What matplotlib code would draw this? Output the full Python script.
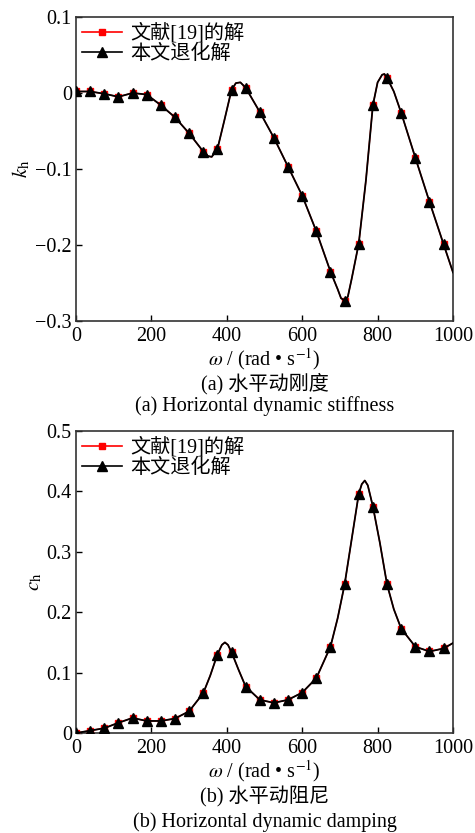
import numpy as np
import matplotlib.pyplot as plt
from matplotlib.lines import Line2D

plt.rcParams['font.family'] = ['Liberation Serif', 'Noto Sans CJK SC']
plt.rcParams['mathtext.fontset'] = 'stix'

# sample frequencies (markers), rad/s
omega = [0, 37.5, 75, 112.5, 150, 187.5, 225, 262.5, 300, 337.5, 375, 412.5,
         450, 487.5, 525, 562.5, 600, 637.5, 675, 712.5, 750, 787.5, 825,
         862.5, 900, 937.5, 975]

# (a) horizontal dynamic stiffness
k_h = [0.002, 0.002, -0.001, -0.005, 0.000, -0.002, -0.016, -0.032, -0.053,
       -0.077, -0.074, 0.004, 0.007, -0.025, -0.059, -0.097, -0.135, -0.182,
       -0.235, -0.273, -0.198, -0.016, 0.020, -0.026, -0.085, -0.143, -0.199]
# extra points
k_extra_w = [350, 360, 394, 424, 436, 694, 703, 721, 731, 769, 800, 812,
             818, 843, 1000]
k_extra = [-0.083, -0.084, -0.035, 0.013, 0.014, -0.258, -0.270, -0.268,
           -0.245, -0.115, 0.014, 0.024, 0.025, 0.002, -0.236]

# (b) horizontal dynamic damping
c_h = [0.000, 0.004, 0.008, 0.017, 0.025, 0.020, 0.020, 0.024, 0.036, 0.066,
       0.130, 0.134, 0.077, 0.055, 0.050, 0.055, 0.067, 0.091, 0.143, 0.246,
       0.396, 0.375, 0.246, 0.173, 0.143, 0.135, 0.140]
c_extra_w = [356, 387, 395, 403, 431, 694, 731, 758, 766, 774, 806, 843, 1000]
c_extra = [0.095, 0.146, 0.150, 0.146, 0.105, 0.190, 0.320, 0.412, 0.418,
           0.410, 0.315, 0.205, 0.149]

labels = ['文献[19]的解', '本文退化解']


def curve(w, v, ew, ev):
    xs = np.array(w + ew, dtype=float)
    ys = np.array(v + ev, dtype=float)
    idx = np.argsort(xs)
    return xs[idx], ys[idx]


fig = plt.figure(figsize=(4.75, 8.33), dpi=100)
ax1 = fig.add_axes([0.16, 0.6146, 0.7937, 0.365])
ax2 = fig.add_axes([0.16, 0.12, 0.7937, 0.3626])

panels = [
    (ax1, k_h, k_extra_w, k_extra, (-0.3, 0.1), [-0.3, -0.2, -0.1, 0, 0.1],
     ['\u22120.3', '\u22120.2', '\u22120.1', '0', '0.1'], r'$k_{\rm h}$'),
    (ax2, c_h, c_extra_w, c_extra, (0, 0.5), [0, 0.1, 0.2, 0.3, 0.4, 0.5],
     ['0', '0.1', '0.2', '0.3', '0.4', '0.5'], r'$c_{\rm h}$'),
]

for ax, vals, ew, ev, ylim, yt, ytl, ylab in panels:
    lx, ly = curve(omega, vals, ew, ev)
    ax.plot(lx, ly, color='red', lw=1.0, zorder=2)
    ax.plot(omega, vals, 's', color='red', ms=5, zorder=3)
    ax.plot(lx, ly, color='black', lw=1.3, zorder=4)
    ax.plot(omega, vals, '^', color='black', ms=6.5, zorder=5)

    ax.set_xlim(0, 1000)
    ax.set_ylim(*ylim)
    ax.set_xticks([0, 200, 400, 600, 800, 1000])
    ax.set_yticks(yt)
    ax.set_yticklabels(ytl)
    ax.tick_params(direction='in', length=4, width=1, labelsize=14.5,
                   top=False, right=False)
    ax.tick_params(axis='x', pad=4)
    ax.tick_params(axis='y', pad=3)
    for s in ax.spines.values():
        s.set_linewidth(1.2)
        s.set_color('#333333')
    ax.set_ylabel(ylab, fontsize=15, labelpad=2)
    ax.set_xlabel(r'$\omega$ / (rad • s$^{-1}$)', fontsize=14.5, labelpad=0)

    handles = [
        Line2D([], [], color='red', marker='s', ms=5, lw=1.2),
        Line2D([], [], color='black', marker='^', ms=6.5, lw=1.2),
    ]
    ax.legend(handles, labels, loc='upper left', frameon=False,
              fontsize=14.5, handlelength=2.0, handletextpad=0.4,
              labelspacing=0.05, borderaxespad=0.1, borderpad=0.2)

fig.text(0.557, 0.540, '(a) 水平动刚度', ha='center', va='center', fontsize=14.5)
fig.text(0.557, 0.513, '(a) Horizontal dynamic stiffness', ha='center',
         va='center', fontsize=14.5)
fig.text(0.557, 0.043, '(b) 水平动阻尼', ha='center', va='center', fontsize=14.5)
fig.text(0.557, 0.013, '(b) Horizontal dynamic damping', ha='center',
         va='center', fontsize=14.5)

fig.savefig('out.png', dpi=100)
